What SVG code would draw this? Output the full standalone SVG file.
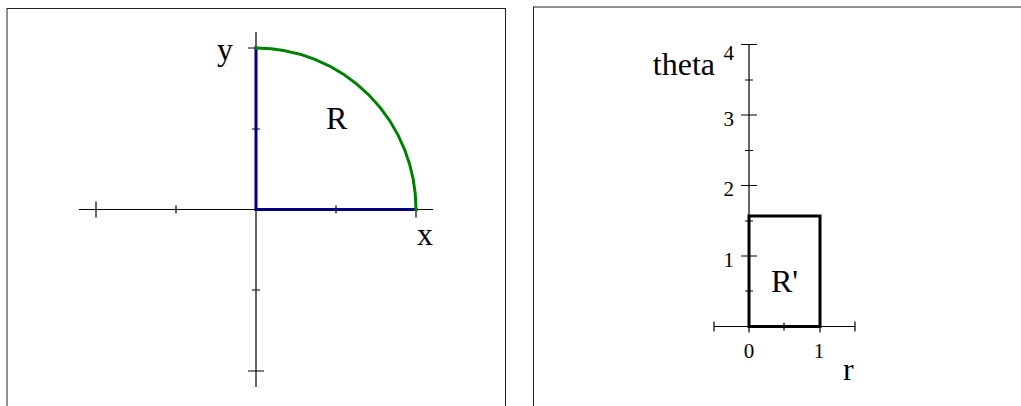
<svg xmlns="http://www.w3.org/2000/svg" width="1021" height="406" viewBox="0 0 1021 406">
<style>
.frame{fill:none;stroke:#222;stroke-width:1}
.axis{fill:none;stroke:#000;stroke-width:1.2}
.thick{fill:none;stroke-width:3;stroke-linecap:square}
.lbl{font-family:"Liberation Serif","Times New Roman",serif;font-size:32px;fill:#000}
.num{font-family:"Liberation Serif","Times New Roman",serif;font-size:21px;fill:#000}
</style>
<rect width="1021" height="406" fill="#fff"/>
<g id="panel-left">
<rect class="frame" x="7" y="8.5" width="498.5" height="420"/>
<g id="axes-xy" class="axis">
<path d="M79,209.5H433M256,32V387"/>
<path d="M96,201.5V217.5M416,201.5V217.5M176,205.5V213.5M336,205.5V213.5"/>
<path d="M248,48H264M248,371H264M252,129H260M252,290H260"/>
</g>
<g id="region-R">
<path class="thick" d="M256,48V209.5H416" stroke="#000080"/>
<path class="thick" d="M256,48A160,161.5 0 0 1 416,209.5" stroke="#008000" stroke-linecap="butt"/>
<text class="lbl" x="326" y="129">R</text>
</g>
<text id="label-y" class="lbl" x="217" y="60">y</text>
<text id="label-x" class="lbl" x="417" y="245">x</text>
</g>
<g id="panel-right">
<rect class="frame" x="533.5" y="7" width="500" height="420"/>
<g id="axes-rtheta" class="axis">
<path d="M714,326.5H855M749,44V327"/>
<path d="M741,44.5H757M741,115H757M741,185.5H757M741,256H757"/>
<path d="M745,80H753M745,150.5H753M745,221H753M745,291H753"/>
<path d="M714,321.5V331.5M855,321.5V331.5M784,322.5V330.5M749,320.5V332.5M820,320.5V332.5"/>
</g>
<g id="tick-labels" class="num">
<text x="734" y="60" text-anchor="end">4</text>
<text x="734" y="126" text-anchor="end">3</text>
<text x="734" y="196" text-anchor="end">2</text>
<text x="734" y="267" text-anchor="end">1</text>
<text x="749" y="358" text-anchor="middle">0</text>
<text x="819" y="358" text-anchor="middle">1</text>
</g>
<g id="region-Rprime">
<rect class="thick" x="749" y="216" width="71" height="110.5" stroke="#000" stroke-linecap="butt"/>
<text class="lbl" x="771" y="292">R'</text>
</g>
<text id="label-theta" class="lbl" x="715" y="75" text-anchor="end">theta</text>
<text id="label-r" class="lbl" x="843" y="380">r</text>
</g>
</svg>
